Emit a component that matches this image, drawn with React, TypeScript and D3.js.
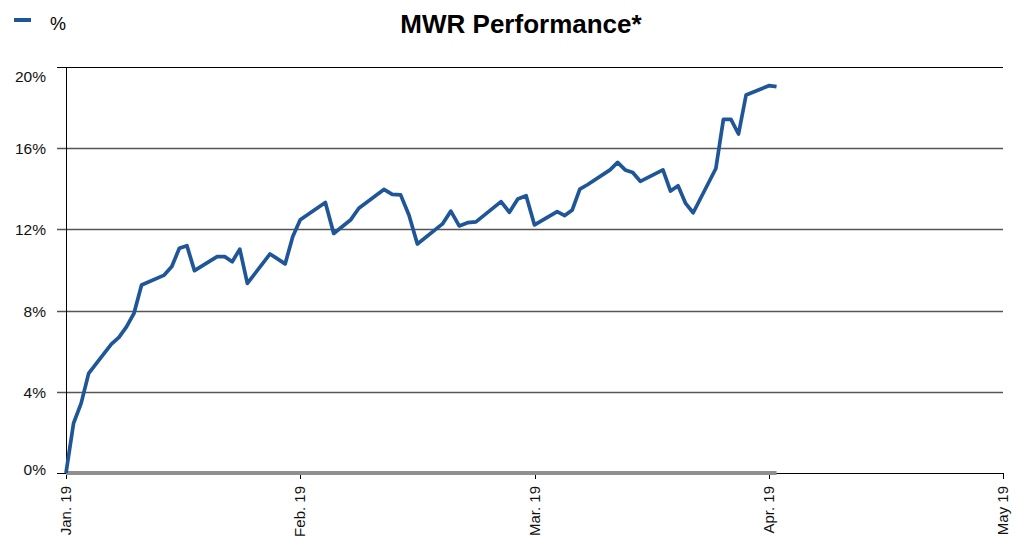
import * as React from 'react'
import * as d3 from 'd3'

// trading days (2019) and MWR performance in %
const dates = [
  '2019-01-01', '2019-01-02', '2019-01-03', '2019-01-04', '2019-01-07', '2019-01-08', '2019-01-09', '2019-01-10', '2019-01-11',
  '2019-01-14', '2019-01-15', '2019-01-16', '2019-01-17', '2019-01-18', '2019-01-21', '2019-01-22', '2019-01-23', '2019-01-24',
  '2019-01-25', '2019-01-28', '2019-01-29', '2019-01-30', '2019-01-31', '2019-02-01', '2019-02-04', '2019-02-05', '2019-02-06',
  '2019-02-07', '2019-02-08', '2019-02-11', '2019-02-12', '2019-02-13', '2019-02-14', '2019-02-15', '2019-02-18', '2019-02-19',
  '2019-02-20', '2019-02-21', '2019-02-22', '2019-02-25', '2019-02-26', '2019-02-27', '2019-02-28', '2019-03-01', '2019-03-04',
  '2019-03-05', '2019-03-06', '2019-03-07', '2019-03-08', '2019-03-11', '2019-03-12', '2019-03-13', '2019-03-14', '2019-03-15',
  '2019-03-18', '2019-03-19', '2019-03-20', '2019-03-21', '2019-03-22', '2019-03-25', '2019-03-26', '2019-03-27', '2019-03-28',
  '2019-03-29', '2019-04-01', '2019-04-02',
]
const mwr = [
  0, 2.45, 3.43, 4.91, 6.35, 6.68, 7.2, 7.87, 9.26,
  9.75, 10.17, 11.07, 11.2, 9.97, 10.66, 10.66, 10.41, 11.03,
  9.34, 10.79, 10.55, 10.3, 11.64, 12.48, 13.33, 11.8, 12.13,
  12.46, 13.04, 13.97, 13.73, 13.7, 12.7, 11.28, 12.27, 12.9,
  12.17, 12.33, 12.37, 13.37, 12.84, 13.5, 13.66, 12.22, 12.88,
  12.68, 12.96, 13.98, 14.2, 14.93, 15.3, 14.93, 14.8, 14.37,
  14.93, 13.89, 14.15, 13.28, 12.82, 15.0, 17.42, 17.42, 16.7,
  18.62, 19.08, 19.03,
]
const monthTicks = ['2019-01-01', '2019-02-01', '2019-03-01', '2019-04-01', '2019-05-01']
const monthLabels = ['Jan. 19', 'Feb. 19', 'Mar. 19', 'Apr. 19', 'May 19']
const yTicks = [0, 4, 8, 12, 16, 20]

const W = 1016
const H = 537
const m = { left: 66, right: 13, top: 67, bottom: 64 }
const FONT = 'Liberation Sans, Arial, sans-serif'

export default function App() {
  const ref = React.useRef<SVGSVGElement>(null)

  React.useEffect(() => {
    const svg = d3.select(ref.current)
    svg.selectAll('*').remove()

    const parse = d3.utcParse('%Y-%m-%d')
    const tickDates = monthTicks.map(d => parse(d)!)
    const iw = W - m.left - m.right
    // each month gets the same width, like the original chart
    const x = d3.scaleUtc()
      .domain(tickDates)
      .range(tickDates.map((_, i) => m.left + (i * iw) / (tickDates.length - 1)))
    const y = d3.scaleLinear().domain([0, 20]).range([H - m.bottom, m.top])

    const data = dates.map((d, i) => ({ date: parse(d)!, v: mwr[i] }))

    // gridlines + y ticks
    svg.append('g')
      .selectAll('line')
      .data(yTicks)
      .enter()
      .append('line')
      .attr('x1', m.left - 9)
      .attr('x2', W - m.right)
      .attr('y1', d => Math.round(y(d)) + 0.5)
      .attr('y2', d => Math.round(y(d)) + 0.5)
      .attr('stroke', d => (d === 20 || d === 0 ? '#000' : '#555'))
      .attr('stroke-width', d => (d === 20 || d === 0 ? 1 : 1.3))

    // top label sits below its line, bottom one a bit above
    const labelShift = (d: number) => (d === 20 ? 15 : d === 0 ? 2 : 6)
    svg.append('g')
      .selectAll('text')
      .data(yTicks)
      .enter()
      .append('text')
      .attr('x', 46)
      .attr('y', d => y(d) + labelShift(d))
      .attr('text-anchor', 'end')
      .style('font-family', FONT)
      .style('font-size', '15.5px')
      .attr('fill', '#111')
      .text(d => `${d}%`)

    // y axis line
    svg.append('line')
      .attr('x1', m.left + 0.5).attr('x2', m.left + 0.5)
      .attr('y1', y(20)).attr('y2', y(0))
      .attr('stroke', '#000')

    // x ticks + labels
    const xg = svg.append('g')
    xg.selectAll('line')
      .data(tickDates)
      .enter()
      .append('line')
      .attr('x1', d => Math.round(x(d)) + 0.5)
      .attr('x2', d => Math.round(x(d)) + 0.5)
      .attr('y1', y(0))
      .attr('y2', y(0) + 6)
      .attr('stroke', '#000')
    xg.selectAll('text')
      .data(tickDates)
      .enter()
      .append('text')
      .attr('transform', d => `translate(${x(d) + 5},${y(0) + 13}) rotate(-90)`)
      .attr('text-anchor', 'end')
      .style('font-family', FONT)
      .style('font-size', '15px')
      .attr('fill', '#111')
      .text((_, i) => monthLabels[i])

    // zero benchmark line (gray)
    const line = d3.line<{ date: Date; v: number }>().x(d => x(d.date)).y(d => y(d.v))
    svg.append('path')
      .datum(data.map(d => ({ date: d.date, v: 0 })))
      .attr('d', line)
      .attr('fill', 'none')
      .attr('stroke', '#8f8f8f')
      .attr('stroke-width', 4)

    svg.append('path')
      .datum(data)
      .attr('d', line)
      .attr('fill', 'none')
      .attr('stroke', '#1f5698')
      .attr('stroke-width', 3.7)
      .attr('stroke-linejoin', 'round')

    // title + legend
    svg.append('text')
      .attr('x', 521).attr('y', 33)
      .attr('text-anchor', 'middle')
      .style('font-family', FONT)
      .style('font-size', '26px')
      .style('font-weight', 'bold')
      .text('MWR Performance*')
    svg.append('line')
      .attr('x1', 14).attr('x2', 31).attr('y1', 20).attr('y2', 20)
      .attr('stroke', '#1f5698').attr('stroke-width', 4)
    svg.append('text')
      .attr('x', 50).attr('y', 30)
      .style('font-family', FONT)
      .style('font-size', '18px')
      .text('%')
  }, [])

  return (
    <svg ref={ref} width={W} height={H} style={{ position: 'absolute', left: 0, top: 0 }} />
  )
}
